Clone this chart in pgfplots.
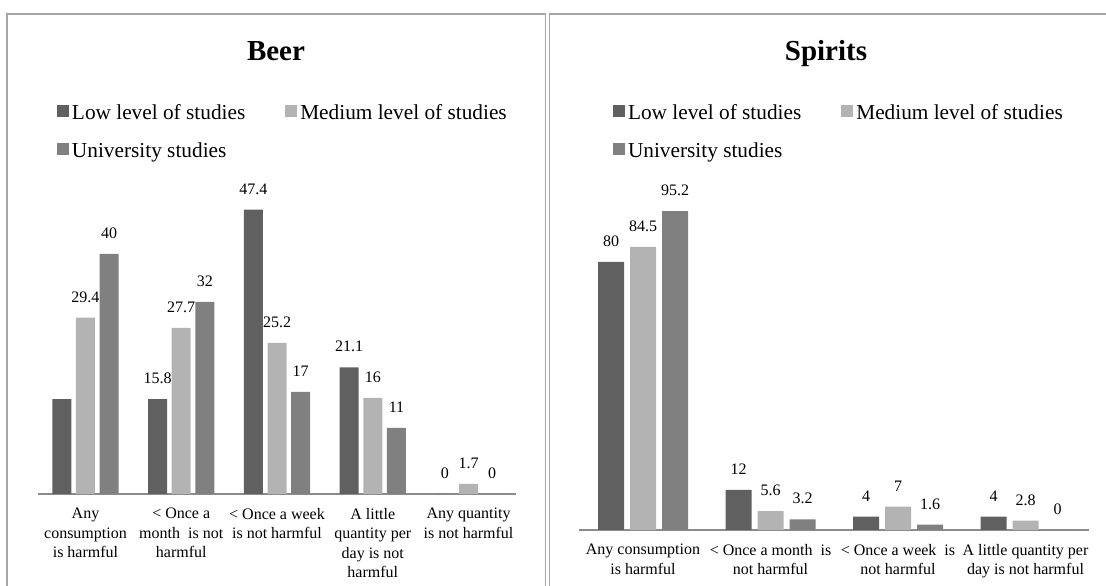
\documentclass[border=0pt]{standalone}
\usepackage{fontspec}
\setmainfont{Liberation Serif}
\usepackage{pgfplots}
\pgfplotsset{compat=1.18}
\usepackage{pgfplotstable}

\definecolor{lowc}{HTML}{606060}
\definecolor{medc}{HTML}{B3B3B3}
\definecolor{unic}{HTML}{808080}
\definecolor{framec}{HTML}{A6A6A6}
\definecolor{axisc}{HTML}{8C8C8C}

% Share (%) of respondents by level of studies
\pgfplotstableread{
x low med uni
0 15.8 29.4 40
1 15.8 27.7 32
2 47.4 25.2 17
3 21.1 16 11
4 0 1.7 0
}\beer

\pgfplotstableread{
x low med uni
0 80 84.5 95.2
1 12 5.6 3.2
2 4 7 1.6
3 4 2.8 0
}\spirits

\pgfplotsset{
  sqlegend/.style={legend image code/.code={\fill[##1] (0pt,-2pt) rectangle (12pt,10pt);}},
  panel/.style={
    scale only axis, anchor=south west, clip=false,
    axis x line*=bottom, axis y line=none,
    x axis line style={draw=axisc, line width=2pt},
    ymin=0, enlarge x limits=false,
    xtick style={draw=none}, major tick length=0pt,
    xticklabel style={font=\fontsize{16}{19.5}\selectfont, align=center,
      inner sep=0pt, anchor=north, yshift=-14pt},
    point meta=y,
    nodes near coords,
    every node near coord/.append style={font=\fontsize{16}{19}\selectfont,
      anchor=south, inner sep=0pt, yshift=15pt, text=black},
    /pgf/number format/assume math mode=true,
    legend columns=2,
    legend cell align=left,
    legend style={draw=none, fill=none, inner sep=0pt, outer sep=0pt,
      anchor=north west, font=\fontsize{21.3}{24}\selectfont,
      column sep=3pt, row sep=18pt,
      /tikz/every even column/.append style={column sep=40pt},
      nodes={inner sep=0pt, text height=15pt, text depth=5pt}},
    title style={anchor=base, yshift=0pt, inner sep=0pt,
      font=\fontsize{29}{33}\selectfont\bfseries},
  }
}

\begin{document}
\begin{tikzpicture}[x=1pt,y=1pt]
\useasboundingbox (0,0) rectangle (1106,586);
\clip (0,0) rectangle (1106,586);

% chart frames
\draw[framec, line width=1.6pt] (7,-5) -- (7,572) -- (545.5,572) -- (545.5,-5);
\draw[framec, line width=1.6pt] (549.5,-5) -- (549.5,572) -- (1112,572);

% Beer
\begin{axis}[panel,
  at={(37.6pt,92pt)}, width=478.8pt, height=312pt,
  ymax=52, xmin=-0.5, xmax=4.5,
  ybar=4.7pt, bar width=19pt,
  xtick={0,...,4},
  xticklabels={{Any\\consumption\\is harmful},{< Once a\\month~ is not\\harmful},{< Once a week\\is not harmful},{A little\\quantity per\\day is not\\harmful},{Any quantity\\is not harmful}},
  title={Beer},
  title style={at={(axis description cs:0.4979,1.3718)}},
  legend style={at={(axis description cs:0.0405,1.2484)}},
]
\addplot[fill=lowc, draw=none, sqlegend,
  visualization depends on={value \coordindex \as \idx},
  nodes near coords={\ifnum\idx=0\relax\else\pgfmathprintnumber{\pgfplotspointmeta}\fi}]
  table[x=x, y=low] {\beer};
\addplot[fill=medc, draw=none, sqlegend] table[x=x, y=med] {\beer};
\addplot[fill=unic, draw=none, sqlegend] table[x=x, y=uni] {\beer};
\legend{Low level of studies, Medium level of studies, University studies}
\end{axis}

% Spirits
\begin{axis}[panel,
  at={(579.25pt,56pt)}, width=510pt, height=335pt,
  ymax=100, xmin=-0.5, xmax=3.5,
  ybar=6pt, bar width=26pt,
  xtick={0,...,3},
  xticklabels={{Any consumption\\is harmful},{< Once a month~ is\\not harmful},{< Once a week~ is\\not harmful},{A little quantity per\\day is not harmful}},
  title={Spirits},
  title style={at={(axis description cs:0.4838,1.385)}},
  legend style={at={(axis description cs:0.0662,1.2701)}},
]
\addplot[fill=lowc, draw=none, sqlegend] table[x=x, y=low] {\spirits};
\addplot[fill=medc, draw=none, sqlegend] table[x=x, y=med] {\spirits};
\addplot[fill=unic, draw=none, sqlegend] table[x=x, y=uni] {\spirits};
\legend{Low level of studies, Medium level of studies, University studies}
\end{axis}
\end{tikzpicture}
\end{document}
